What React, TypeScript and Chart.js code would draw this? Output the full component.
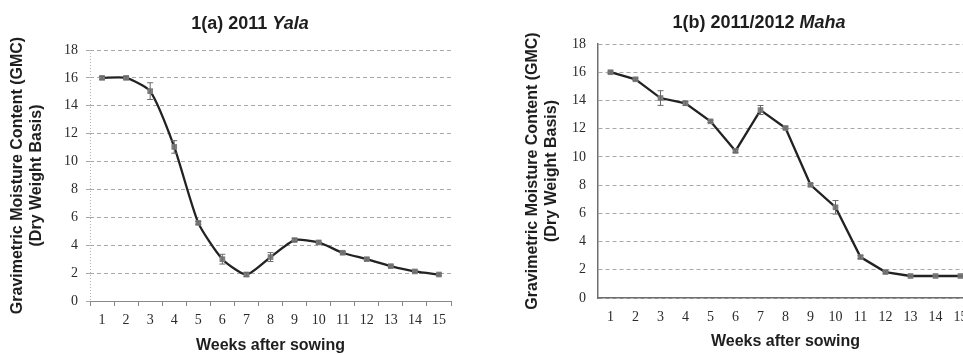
import React, { useEffect, useRef } from "react";
import { Chart, registerables } from "chart.js";

Chart.register(...registerables);

const weeks = ["1", "2", "3", "4", "5", "6", "7", "8", "9", "10", "11", "12", "13", "14", "15"];
const yTicks = [0, 2, 4, 6, 8, 10, 12, 14, 16, 18];

const yalaGMC = [16.0, 16.0, 15.05, 11.05, 5.6, 3.0, 1.9, 3.15, 4.37, 4.2, 3.46, 3.0, 2.5, 2.12, 1.9];
const yalaErr = [0.1, 0.1, 0.6, 0.45, 0.1, 0.35, 0.15, 0.32, 0.1, 0.1, 0.08, 0.08, 0.08, 0.08, 0.08];

const mahaGMC = [16.0, 15.5, 14.17, 13.8, 12.52, 10.42, 13.32, 12.05, 8.02, 6.43, 2.9, 1.84, 1.56, 1.56, 1.56];
const mahaErr = [0.08, 0.08, 0.52, 0.15, 0.08, 0.1, 0.32, 0.08, 0.08, 0.48, 0.1, 0.08, 0.05, 0.05, 0.05];

const SANS = '"Liberation Sans", Arial, sans-serif';
const SERIF = '"Liberation Serif", "Times New Roman", serif';

type PanelSpec = {
  titleMain: string;
  titleItalic: string;
  titleX: number;
  titleY: number;
  values: number[];
  errors: number[];
  width: number;
  yAxisWidth: number;
  xAxisHeight: number;
  padTop: number;
  padRight: number;
  yTitlePadTop: number;
  xTitlePadBottom: number;
  tension: number;
  yGridTick: number;
  yTickPad: number;
  yBorder: any;
  dottedYAxis: boolean;
  xBorder: any;
  xTickLen: number;
  xTickPad: number;
};

function makeTitlePlugin(spec: PanelSpec) {
  return {
    id: "mixedTitle",
    afterDraw(chart: any) {
      const ctx = chart.ctx;
      ctx.save();
      const f1 = `bold 18px ${SANS}`;
      const f2 = `italic bold 18px ${SANS}`;
      ctx.font = f1;
      const w1 = ctx.measureText(spec.titleMain).width;
      ctx.font = f2;
      const w2 = ctx.measureText(spec.titleItalic).width;
      const x = spec.titleX - (w1 + w2) / 2;
      ctx.fillStyle = "#1e1e1e";
      ctx.textBaseline = "middle";
      ctx.textAlign = "left";
      ctx.font = f1;
      ctx.fillText(spec.titleMain, x, spec.titleY);
      ctx.font = f2;
      ctx.fillText(spec.titleItalic, x + w1, spec.titleY);
      ctx.restore();
    },
  };
}

function makeAxisPlugin(spec: PanelSpec) {
  return {
    id: "dottedAxis",
    beforeDatasetsDraw(chart: any) {
      if (!spec.dottedYAxis) return;
      const ctx = chart.ctx;
      const a = chart.chartArea;
      ctx.save();
      ctx.strokeStyle = "#b0b0b0";
      ctx.lineWidth = 1;
      ctx.setLineDash([1, 2]);
      ctx.beginPath();
      ctx.moveTo(Math.round(a.left) + 0.5, a.top);
      ctx.lineTo(Math.round(a.left) + 0.5, a.bottom);
      ctx.stroke();
      ctx.restore();
    },
  };
}

function makeErrorPlugin(spec: PanelSpec) {
  return {
    id: "errorBars",
    afterDatasetsDraw(chart: any) {
      const ctx = chart.ctx;
      const xs = chart.scales.x;
      const ys = chart.scales.y;
      ctx.save();
      ctx.strokeStyle = "#6a6a6a";
      ctx.lineWidth = 1;
      spec.values.forEach((v, i) => {
        const e = spec.errors[i];
        const x = xs.getPixelForValue(i);
        const yTop = ys.getPixelForValue(v + e);
        const yBot = ys.getPixelForValue(v - e);
        ctx.beginPath();
        ctx.moveTo(x, yTop);
        ctx.lineTo(x, yBot);
        ctx.moveTo(x - 3, yTop);
        ctx.lineTo(x + 3, yTop);
        ctx.moveTo(x - 3, yBot);
        ctx.lineTo(x + 3, yBot);
        ctx.stroke();
      });
      ctx.restore();
    },
  };
}

function makeConfig(spec: PanelSpec): any {
  return {
    type: "line",
    data: {
      labels: weeks,
      datasets: [
        {
          data: spec.values,
          borderColor: "#222222",
          borderWidth: 2.3,
          tension: spec.tension,
          pointStyle: "rect",
          pointRadius: 4,
          pointBackgroundColor: "#7d7d7d",
          pointBorderColor: "#7d7d7d",
          pointBorderWidth: 0,
          fill: false,
        },
      ],
    },
    options: {
      responsive: false,
      animation: false,
      devicePixelRatio: 1,
      layout: { padding: { top: spec.padTop, right: spec.padRight, left: 0, bottom: 0 } },
      plugins: {
        legend: { display: false },
        title: { display: false },
        tooltip: { enabled: false },
      },
      scales: {
        x: {
          type: "category",
          offset: true,
          afterFit: (s: any) => {
            s.height = spec.xAxisHeight;
          },
          grid: {
            offset: true,
            drawOnChartArea: false,
            drawTicks: spec.xTickLen > 0,
            tickLength: spec.xTickLen,
            color: "#8a8a8a",
          },
          border: spec.xBorder,
          ticks: {
            color: "#2a2a2a",
            font: { family: SERIF, size: 14 },
            padding: spec.xTickPad,
            maxRotation: 0,
            autoSkip: false,
          },
          title: {
            display: true,
            text: "Weeks after sowing",
            color: "#1e1e1e",
            font: { family: SANS, size: 16, weight: "bold" },
            padding: { top: 0, bottom: spec.xTitlePadBottom },
          },
        },
        y: {
          min: 0,
          max: 18,
          afterFit: (s: any) => {
            s.width = spec.yAxisWidth;
          },
          afterBuildTicks: (s: any) => {
            s.ticks = yTicks.map((v) => ({ value: v }));
          },
          grid: {
            color: "#a8a8a8",
            lineWidth: 1,
            drawTicks: spec.yGridTick > 0,
            tickLength: spec.yGridTick,
            tickColor: "#a8a8a8",
          },
          border: { ...spec.yBorder, dash: [4, 3] },
          ticks: {
            color: "#2a2a2a",
            font: { family: SERIF, size: 14 },
            padding: spec.yTickPad,
          },
          title: {
            display: true,
            text: ["Gravimetric Moisture Content (GMC)", "(Dry Weight Basis)"],
            color: "#1e1e1e",
            font: { family: SANS, size: 16, weight: "bold", lineHeight: 1.15 },
            padding: { top: spec.yTitlePadTop, bottom: 0 },
          },
        },
      },
    },
    plugins: [makeAxisPlugin(spec), makeErrorPlugin(spec), makeTitlePlugin(spec)],
  };
}

function Panel({ spec, left }: { spec: PanelSpec; left: number }) {
  const ref = useRef<HTMLCanvasElement | null>(null);
  useEffect(() => {
    if (!ref.current) return;
    const chart = new Chart(ref.current, makeConfig(spec));
    return () => chart.destroy();
  }, []);
  return (
    <canvas
      ref={ref}
      width={spec.width}
      height={355}
      style={{ position: "absolute", left, top: 0, width: spec.width, height: 355 }}
    />
  );
}

const specA: PanelSpec = {
  titleMain: "1(a) 2011 ",
  titleItalic: "Yala",
  titleX: 250,
  titleY: 24,
  values: yalaGMC,
  errors: yalaErr,
  width: 480,
  yAxisWidth: 90,
  xAxisHeight: 54,
  padTop: 50,
  padRight: 29,
  yTitlePadTop: 8.8,
  xTitlePadBottom: 0,
  tension: 0.2,
  yGridTick: 4,
  yTickPad: 8,
  yBorder: { display: false },
  dottedYAxis: true,
  xBorder: { display: true, color: "#8a8a8a", width: 1 },
  xTickLen: 5,
  xTickPad: 6,
};

const specB: PanelSpec = {
  titleMain: "1(b) 2011/2012 ",
  titleItalic: "Maha",
  titleX: 279,
  titleY: 23,
  values: mahaGMC,
  errors: mahaErr,
  width: 500,
  yAxisWidth: 118,
  xAxisHeight: 57,
  padTop: 44,
  padRight: 7,
  yTitlePadTop: 43.8,
  xTitlePadBottom: 4,
  tension: 0,
  yGridTick: 0,
  yTickPad: 12,
  yBorder: { display: true, color: "#6f6f6f", width: 1.5 },
  dottedYAxis: false,
  xBorder: { display: true, color: "#6f6f6f", width: 1.5 },
  xTickLen: 0,
  xTickPad: 11,
};

export default function App() {
  return (
    <div
      style={{
        position: "absolute",
        left: 0,
        top: 0,
        width: 963,
        height: 355,
        overflow: "hidden",
        background: "#ffffff",
      }}
    >
      <Panel spec={specA} left={0} />
      <Panel spec={specB} left={480} />
    </div>
  );
}
